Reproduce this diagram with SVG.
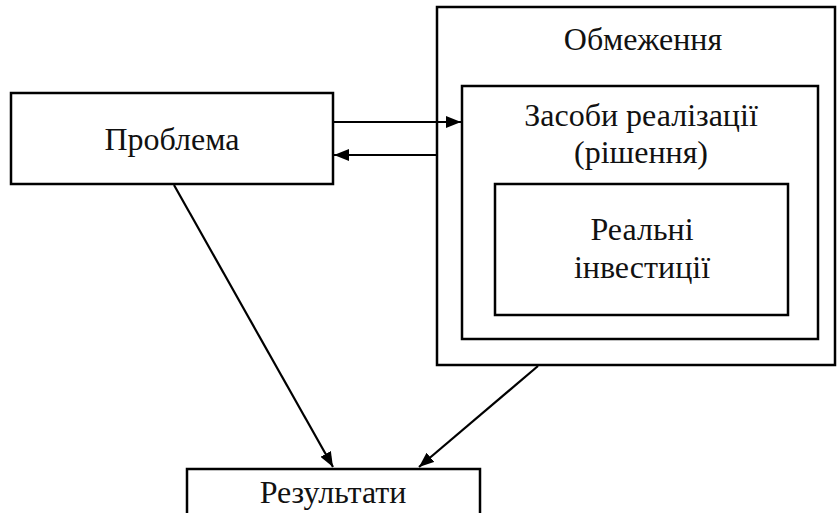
<svg xmlns="http://www.w3.org/2000/svg" width="839" height="513" viewBox="0 0 839 513">
<defs>
<marker id="ah" viewBox="0 0 15 12" refX="15" refY="6" markerWidth="15" markerHeight="12" markerUnits="userSpaceOnUse" orient="auto">
<path d="M0,0 L15,6 L0,12 Z" fill="#000"/>
</marker>
</defs>
<rect width="839" height="513" fill="#fff"/>
<g fill="#fff" stroke="#000" stroke-width="2.5">
<g id="obmezhennia">
<rect x="437" y="7" width="398" height="358"/>
<text x="643" y="50" font-family="Liberation Serif" font-size="32" fill="#111" stroke="none" text-anchor="middle">Обмеження</text>
</g>
<g id="zasoby">
<rect x="462" y="86" width="356" height="253"/>
<text x="641" y="126" font-family="Liberation Serif" font-size="32" fill="#111" stroke="none" text-anchor="middle">Засоби реалізації</text>
<text x="641" y="163" font-family="Liberation Serif" font-size="32" fill="#111" stroke="none" text-anchor="middle">(рішення)</text>
</g>
<g id="realni">
<rect x="495" y="184" width="293" height="131"/>
<text x="642" y="240" font-family="Liberation Serif" font-size="32" fill="#111" stroke="none" text-anchor="middle">Реальні</text>
<text x="642" y="278" font-family="Liberation Serif" font-size="32" fill="#111" stroke="none" text-anchor="middle">інвестиції</text>
</g>
<g id="problema">
<rect x="11" y="93" width="322" height="91"/>
<text x="172" y="150" font-family="Liberation Serif" font-size="32" fill="#111" stroke="none" text-anchor="middle">Проблема</text>
</g>
<g id="rezultaty">
<rect x="187" y="469" width="293" height="50"/>
<text x="333" y="503" font-family="Liberation Serif" font-size="32" fill="#111" stroke="none" text-anchor="middle">Результати</text>
</g>
</g>
<g id="connectors" stroke="#000" stroke-width="2.2" fill="none">
<line x1="333" y1="122" x2="461" y2="122" marker-end="url(#ah)"/>
<line x1="437" y1="155" x2="334" y2="155" marker-end="url(#ah)"/>
<line x1="174" y1="185" x2="333" y2="467" marker-end="url(#ah)"/>
<line x1="538" y1="366" x2="419" y2="467" marker-end="url(#ah)"/>
</g>
</svg>
